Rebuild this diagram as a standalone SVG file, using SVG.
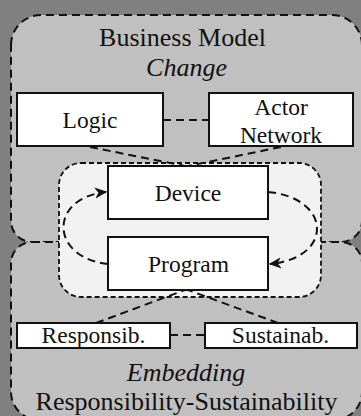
<svg xmlns="http://www.w3.org/2000/svg" width="361" height="416" viewBox="0 0 361 416">
  <defs>
    <style>
      .region { fill: #c0c0c0; stroke: #111; stroke-width: 2; stroke-dasharray: 8 5; }
      .inner { fill: #f2f2f2; stroke: #111; stroke-width: 1.8; stroke-dasharray: 5 3; }
      .box { fill: #fff; stroke: #111; stroke-width: 2; }
      .conn { fill: none; stroke: #111; stroke-width: 2; stroke-dasharray: 8 5; }
      .t { fill: #111; text-anchor: middle; }
      .big { font-size: 26px; }
      .lbl { font-size: 23.5px; }
      .it { font-style: italic; }
    </style>
    <marker id="arr" viewBox="0 0 12 12" refX="11" refY="6" markerWidth="12" markerHeight="12" markerUnits="userSpaceOnUse" orient="auto">
      <path d="M1,1.5 L11,6 L1,10.5 L4,6 Z" fill="#111" stroke="#111" stroke-width="1"/>
    </marker>
  </defs>
  <rect width="361" height="416" fill="#808080"/>

  <g font-family="'Liberation Serif', 'DejaVu Serif', serif">
  <g id="business-model">
    <path class="region" d="M11,45 A30,30 0 0 1 41,15 H332 A30,30 0 0 1 362,45 V221 A21,21 0 0 1 341,242 H32 A21,21 0 0 1 11,221 Z"/>
    <text class="t big" x="182.5" y="46">Business Model</text>
    <text class="t big it" x="186.5" y="76">Change</text>
  </g>
  <g id="embedding">
    <path class="region" d="M32,242 H341 A21,21 0 0 1 362,263 V392 A28,28 0 0 1 334,420 H39 A28,28 0 0 1 11,392 V263 A21,21 0 0 1 32,242 Z"/>
    <text class="t big it" x="186" y="381">Embedding</text>
    <text class="t big" x="186.5" y="410">Responsibility-Sustainability</text>
  </g>
  <g id="core">
    <rect class="inner" x="59" y="163" width="262" height="134" rx="22"/>
  </g>

  <g id="connectors">
    <line class="conn" x1="163" y1="120" x2="209" y2="120"/>
    <line class="conn" x1="90" y1="147" x2="185" y2="166"/>
    <line class="conn" x1="281" y1="147" x2="188" y2="166"/>
    <line class="conn" x1="170" y1="335" x2="205" y2="335"/>
    <line class="conn" x1="96" y1="323" x2="185" y2="290"/>
    <line class="conn" x1="278" y1="323" x2="188" y2="290"/>
    <path class="conn" d="M108,264 C50,258 48,198 106,192" marker-end="url(#arr)"/>
    <path class="conn" d="M268,192 C332,198 334,258 270,264" marker-end="url(#arr)"/>
  </g>

  <g id="logic">
    <rect class="box" x="17" y="93" width="146" height="53"/>
    <text class="t lbl" x="90" y="128">Logic</text>
  </g>
  <g id="actor-network">
    <rect class="box" x="209" y="93" width="144" height="53"/>
    <text class="t lbl" x="281" y="115">Actor</text>
    <text class="t lbl" x="281" y="143">Network</text>
  </g>
  <g id="device">
    <rect class="box" x="108" y="166" width="160" height="53"/>
    <text class="t lbl" x="188" y="201">Device</text>
  </g>
  <g id="program">
    <rect class="box" x="108" y="237" width="160" height="53"/>
    <text class="t lbl" x="188.5" y="272">Program</text>
  </g>
  <g id="responsib">
    <rect class="box" x="17" y="323" width="153" height="25"/>
    <text class="t lbl" x="93.5" y="343">Responsib.</text>
  </g>
  <g id="sustainab">
    <rect class="box" x="205" y="323" width="152" height="25"/>
    <text class="t lbl" x="280.5" y="343">Sustainab.</text>
  </g>
  </g>
</svg>
